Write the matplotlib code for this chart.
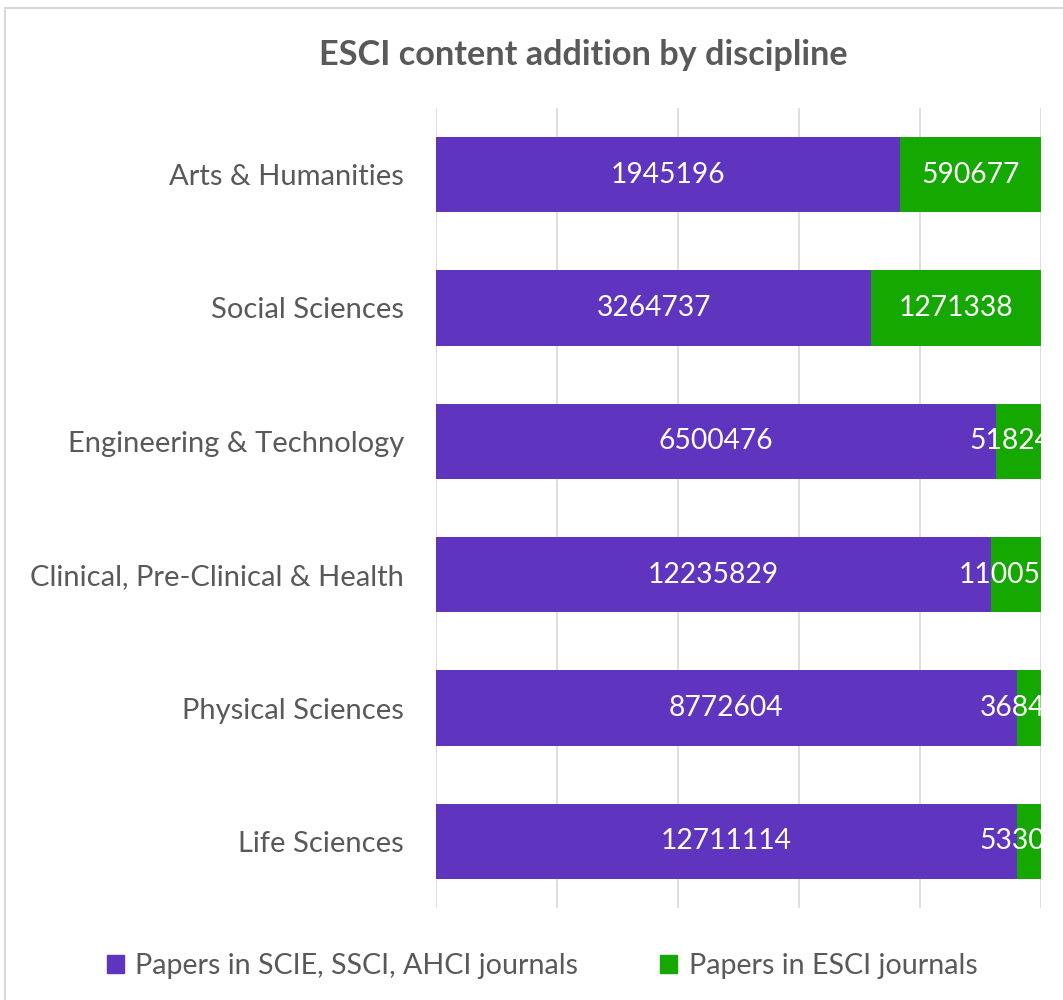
import numpy as np
import matplotlib
matplotlib.use("Agg")
from matplotlib import pyplot as plt
from matplotlib.patches import Patch, Rectangle

# data
categories = ["Arts & Humanities", "Social Sciences", "Engineering & Technology",
              "Clinical, Pre-Clinical & Health", "Physical Sciences", "Life Sciences"]
core_papers = [1945196, 3264737, 6500476, 12235829, 8772604, 12711114]
esci_papers = [590677, 1271338, 518245, 1100534, 368423, 533081]
series_names = ["Papers in SCIE, SSCI, AHCI journals", "Papers in ESCI journals"]

purple = "#5F35BF"
green = "#14A800"
grey = "#595959"

plt.rcParams['font.family'] = ['Lato', 'DejaVu Sans']

fig = plt.figure(figsize=(10.63, 10.0), dpi=100)
ax = fig.add_axes([436/1063, 92/1000, (1041-436)/1063, 800/1000])

core = np.array(core_papers, dtype=float)
esci = np.array(esci_papers, dtype=float)
tot = core + esci
pc = core/tot
pe = esci/tot
y = np.arange(len(categories))

h = 0.565
ax.barh(y, pc, height=h, color=purple)
ax.barh(y, pe, left=pc, height=h, color=green)

# value labels, clipped at the plot edge like the original
for i in range(len(categories)):
    ax.text(pc[i]/2, y[i], str(core_papers[i]), color="white", fontsize=20.3,
            ha="center", va="center", clip_on=True)
    ax.text(pc[i]+pe[i]/2, y[i], str(esci_papers[i]), color="white", fontsize=20.3,
            ha="center", va="center", clip_on=True)

ax.set_xlim(0, 1)
ax.set_ylim(len(categories)-0.5, -0.5)
ax.set_yticks(y)
ax.set_yticklabels(categories, fontsize=21, color=grey)
ax.set_xticks([0, 0.2, 0.4, 0.6, 0.8, 1.0])
ax.set_xticklabels([])
ax.tick_params(axis="both", length=0)
ax.tick_params(axis="y", pad=23)
ax.grid(axis="x", color="#D9D9D9", lw=1.2)
ax.set_axisbelow(True)
for s in ax.spines.values():
    s.set_visible(False)

fig.text(583/1063, 1-55/1000, "ESCI content addition by discipline", ha="center", va="center",
         fontsize=24.7, fontweight="bold", color=grey)

# chart border (cut off at right and bottom)
fig.patches.append(Rectangle((5/1063, -0.1), 1.2, 1-8/1000+0.1, transform=fig.transFigure,
                             fill=False, edgecolor="#D9D9D9", lw=1.5))

handles = [Patch(color=purple), Patch(color=green)]
fig.legend(handles, series_names, loc="center left", bbox_to_anchor=(81/1063, 34/1000),
           ncol=2, frameon=False, fontsize=20.6, labelcolor=grey, handlelength=0.6,
           handleheight=0.6, handletextpad=0.4, columnspacing=2.85)

fig.savefig("out.png", dpi=100)
